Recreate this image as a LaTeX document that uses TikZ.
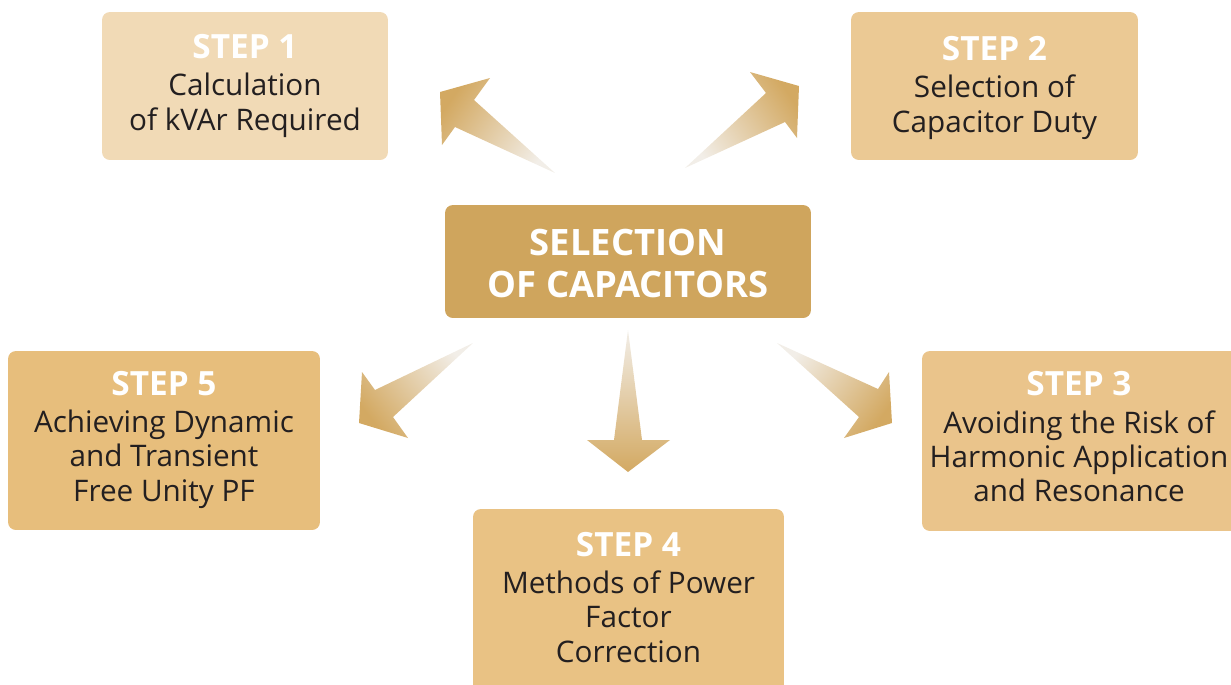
\documentclass[tikz,border=0pt]{standalone}
\usepackage{fontspec}
\setmainfont{Open Sans}
\definecolor{cOne}{HTML}{F1DAB6}
\definecolor{cTwo}{HTML}{EBC994}
\definecolor{cThree}{HTML}{EAC48B}
\definecolor{cFour}{HTML}{E9C284}
\definecolor{cFive}{HTML}{E7BE7C}
\definecolor{cMain}{HTML}{CFA55D}
\definecolor{txt}{HTML}{231F20}
\definecolor{arrHead}{HTML}{D3A962}
\definecolor{arrMid}{HTML}{DDBA80}
\definecolor{arrTail}{HTML}{F2EEE8}
\begin{document}
\begin{tikzpicture}[x=0.02cm,y=-0.02cm,
  stepbox/.style={rounded corners=4.5pt, inner sep=0pt},
  steptext/.style={align=center, text=txt, inner sep=0pt,
    font=\fontsize{16.9}{19.6}\selectfont},
  arr/.style={left color=arrTail, middle color=arrMid, right color=arrHead}]
\useasboundingbox (0,0) rectangle (1231,684);
\newcommand{\stephead}[1]{{\color{white}\bfseries\fontsize{19}{20}\selectfont #1}\\[1.5pt]}
% boxes
\node[stepbox, fill=cOne, minimum width=5.72cm, minimum height=2.96cm] (s1) at (245,86) {};
\node[steptext] (s1t) at (245,86) {\stephead{STEP 1}Calculation\\of kVAr Required};
\node[stepbox, fill=cTwo, minimum width=5.74cm, minimum height=2.96cm] (s2) at (994.5,86) {};
\node[steptext] (s2t) at (994.5,88) {\stephead{STEP 2}Selection of\\Capacitor Duty};
\node[stepbox, fill=cMain, minimum width=7.32cm, minimum height=2.26cm] (c) at (628,261.5) {};
\node[align=center, inner sep=0pt, text=white,
  font=\bfseries\fontsize{20.7}{24}\selectfont] (ct) at (628,263.5) {SELECTION\\OF CAPACITORS};
\node[stepbox, fill=cFive, minimum width=6.24cm, minimum height=3.58cm] (s5) at (164,440.5) {};
\node[steptext] (s5t) at (164,439.5) {\stephead{STEP 5}Achieving Dynamic\\and Transient\\Free Unity PF};
\node[stepbox, fill=cThree, minimum width=6.32cm, minimum height=3.60cm] (s3) at (1080,441) {};
\node[steptext] (s3t) at (1079,437) {\stephead{STEP 3}Avoiding the Risk of\\Harmonic Application\\and Resonance};
\node[stepbox, fill=cFour, minimum width=6.22cm, minimum height=3.70cm] (s4) at (628.5,601.5) {};
\node[steptext] (s4t) at (628.5,597.5) {\stephead{STEP 4}Methods of Power\\Factor\\Correction};
% arrows
\shade[arr, shading angle=235] (555,173) -- (455,127) -- (442,145) -- (440,92) -- (490,78) -- (474,100) -- cycle;
\shade[arr, shading angle=124] (685,168) -- (766,93) -- (750,72) -- (799,86) -- (797,138) -- (785,122) -- cycle;
\shade[arr, shading angle=53] (777,343) -- (878,389) -- (889,372) -- (892,423) -- (844,438) -- (859,417) -- cycle;
\shade[arr, shading angle=0] (628,330) -- (642,440) -- (670,440) -- (628,472) -- (587,440) -- (614,440) -- cycle;
\shade[arr, shading angle=308] (473,343) -- (375,390) -- (362,372) -- (359,423) -- (408,438) -- (393,417) -- cycle;
\end{tikzpicture}
\end{document}
